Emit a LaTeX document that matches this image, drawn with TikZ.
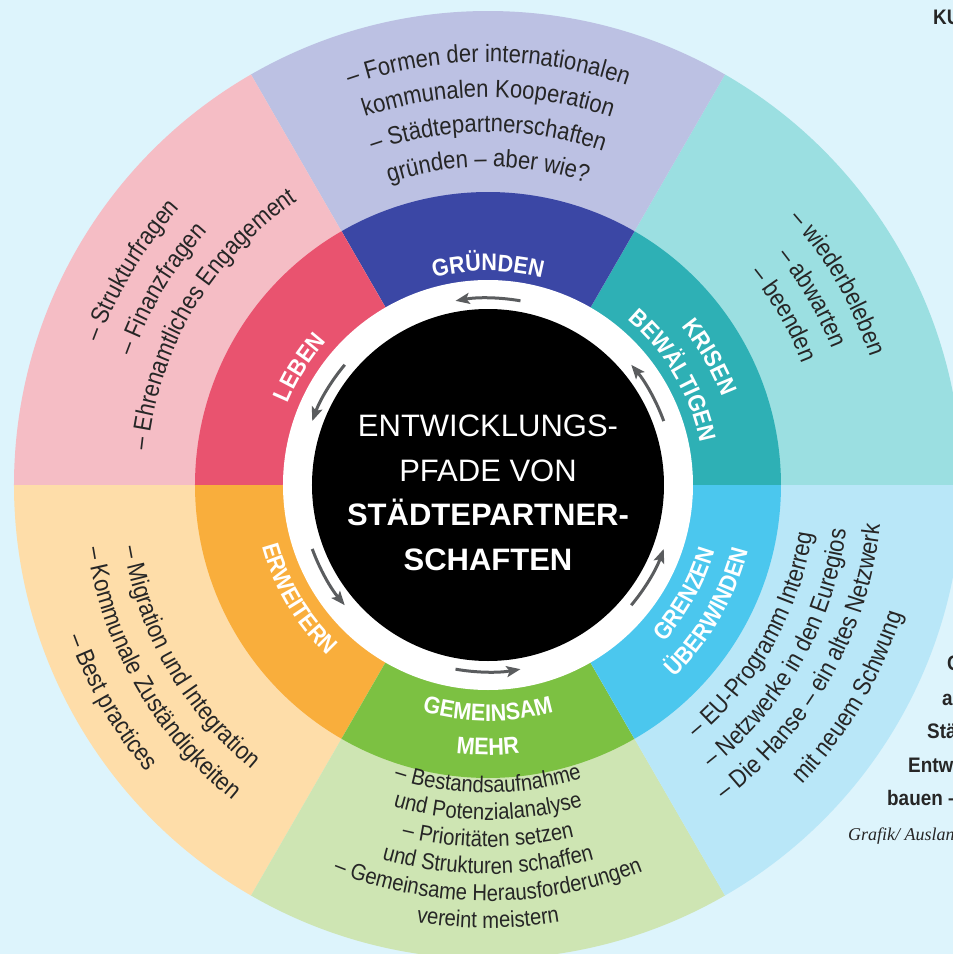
\documentclass[tikz,border=0pt]{standalone}
\usepackage{fontspec}
\setmainfont{Liberation Sans}
\newfontfamily\narrowfont{Liberation Sans}[FakeStretch=0.88]
\newfontfamily\labelfont{Liberation Sans}[FakeStretch=0.9]
\newfontfamily\creditfont{Liberation Serif}
\usetikzlibrary{decorations.text, arrows.meta}

\definecolor{bg}{HTML}{DDF4FC}
\definecolor{lavL}{HTML}{BCC1E3}
\definecolor{lavD}{HTML}{3B47A5}
\definecolor{pinkL}{HTML}{F5BDC5}
\definecolor{pinkD}{HTML}{E9536F}
\definecolor{tealL}{HTML}{9BDFE1}
\definecolor{tealD}{HTML}{2EB0B5}
\definecolor{blueL}{HTML}{B9E7F8}
\definecolor{blueD}{HTML}{4BC7EE}
\definecolor{greenL}{HTML}{CEE5B3}
\definecolor{greenD}{HTML}{7CC142}
\definecolor{peachL}{HTML}{FEDDA9}
\definecolor{peachD}{HTML}{F9AE3C}
\definecolor{arrowgray}{HTML}{5A5C5E}
\definecolor{ink}{HTML}{262626}

% text formats used along the arcs
\newcommand\outerfmt{\color{ink}\narrowfont\fontsize{25}{30}\selectfont}
\newcommand\greenfmt{\color{ink}\narrowfont\fontsize{23}{27}\selectfont}
\newcommand\labelfmt{\color{white}\labelfont\bfseries\fontsize{24}{28}\selectfont}

% #1 middle angle, #2 baseline radius, #3 1 = clockwise / -1 = counterclockwise,
% #4 format, #5 text
\newcommand\ringtext[5]{%
  \pgfmathsetmacro\rtHalf{#3*deg(300/#2)}%
  \pgfmathsetmacro\rtStart{#1+\rtHalf}%
  \pgfmathsetmacro\rtEnd{#1-\rtHalf}%
  \path[decorate, decoration={text along path, text align=center, text={|#4|#5}}]
    (\rtStart:#2) arc[start angle=\rtStart, end angle=\rtEnd, radius=#2];%
}

\tikzset{
  flowarrow/.style={draw=arrowgray, line width=3pt,
    -{Stealth[length=14pt, width=11pt, inset=3pt]}},
  sidenote/.style={anchor=base west, inner sep=0pt, text=ink,
    font=\labelfont\bfseries\fontsize{21}{25}\selectfont},
}

\begin{document}
\begin{tikzpicture}[x=1pt, y=1pt]
  \useasboundingbox (-488,-469) rectangle (465,485);
  \clip (-488,-469) rectangle (465,485);
  \fill[bg] (-488,-469) rectangle (465,485);

  % outer sectors and the coloured ring
  \foreach \a/\lc/\dc in {0/tealL/tealD, 60/lavL/lavD, 120/pinkL/pinkD,
                          180/peachL/peachD, 240/greenL/greenD, 300/blueL/blueD} {
    \fill[\lc] (0,0) -- (\a:474) arc[start angle=\a, end angle=\a+60, radius=474] -- cycle;
    \fill[\dc] (0,0) -- (\a:293) arc[start angle=\a, end angle=\a+60, radius=293] -- cycle;
  }
  \fill[white] (0,0) circle[radius=205];
  \fill[black] (0,0) circle[radius=176];

  % centre title
  \node[text=white, align=center, font=\fontsize{31}{44.5}\selectfont] (title) at (0,-8)
    {ENTWICKLUNGS-\\PFADE VON\\\textbf{STÄDTEPARTNER-}\\\textbf{SCHAFTEN}};

  % cycle arrows in the white ring
  \foreach \m in {90,150,210,270,330,30}
    \draw[flowarrow] (\m-10:187) arc[start angle=\m-10, end angle=\m+10, radius=187];

  % ring labels
  \ringtext{90}{214}{1}{\labelfmt}{GRÜNDEN}
  \ringtext{148}{216}{1}{\labelfmt}{LEBEN}
  \ringtext{30}{250}{1}{\labelfmt}{KRISEN}
  \ringtext{30.5}{216}{1}{\labelfmt}{BEWÄLTIGEN}
  \ringtext{211}{234}{-1}{\labelfmt}{ERWEITERN}
  \ringtext{270}{236}{-1}{\labelfmt}{GEMEINSAM}
  \ringtext{270}{270}{-1}{\labelfmt}{MEHR}
  \ringtext{331}{236}{-1}{\labelfmt}{GRENZEN}
  \ringtext{330}{268}{-1}{\labelfmt}{ÜBERWINDEN}

  % Gründen
  \ringtext{90}{423}{1}{\outerfmt}{– Formen der internationalen}
  \ringtext{90}{388}{1}{\outerfmt}{kommunalen Kooperation}
  \ringtext{90}{353}{1}{\outerfmt}{– Städtepartnerschaften}
  \ringtext{90}{318}{1}{\outerfmt}{gründen – aber wie?}
  % Leben
  \ringtext{149}{414}{1}{\outerfmt}{– Strukturfragen}
  \ringtext{149}{378}{1}{\outerfmt}{– Finanzfragen}
  \ringtext{149}{342}{1}{\outerfmt}{– Ehrenamtliches Engagement}
  % Krisen bewältigen
  \ringtext{30}{403}{1}{\outerfmt}{– wiederbeleben}
  \ringtext{30}{370}{1}{\outerfmt}{– abwarten}
  \ringtext{30}{337}{1}{\outerfmt}{– beenden}
  % Grenzen überwinden
  \ringtext{330.5}{328}{-1}{\outerfmt}{– EU-Programm Interreg}
  \ringtext{330.5}{361}{-1}{\outerfmt}{– Netzwerke in den Euregios}
  \ringtext{330.5}{394}{-1}{\outerfmt}{– Die Hanse – ein altes Netzwerk}
  \ringtext{329.5}{434}{-1}{\outerfmt}{mit neuem Schwung}
  % Erweitern
  \ringtext{210}{370}{-1}{\outerfmt}{– Migration und Integration}
  \ringtext{210}{406}{-1}{\outerfmt}{– Kommunale Zuständigkeiten}
  \ringtext{210}{446}{-1}{\outerfmt}{– Best practices}
  % Gemeinsam mehr
  \ringtext{270}{308}{-1}{\greenfmt}{– Bestandsaufnahme}
  \ringtext{270}{335}{-1}{\greenfmt}{und Potenzialanalyse}
  \ringtext{270}{362}{-1}{\greenfmt}{– Prioritäten setzen}
  \ringtext{270}{389}{-1}{\greenfmt}{und Strukturen schaffen}
  \ringtext{270}{416}{-1}{\greenfmt}{– Gemeinsame Herausforderungen}
  \ringtext{270}{443}{-1}{\greenfmt}{vereint meistern}

  % text running off the right edge
  \node[sidenote] (ku) at (445,460) {KU};
  \node[sidenote] (n1) at (459,-185) {G};
  \node[sidenote] (n2) at (454,-220) {a};
  \node[sidenote] (n3) at (439,-253) {Stä};
  \node[sidenote] (n4) at (420,-287) {Entw};
  \node[sidenote] (n5) at (399,-320) {bauen –};
  \node[anchor=base west, inner sep=0pt, text=ink,
        font=\creditfont\itshape\fontsize{18}{21}\selectfont] (credit) at (360,-355) {Grafik/ Auslan};
\end{tikzpicture}
\end{document}
